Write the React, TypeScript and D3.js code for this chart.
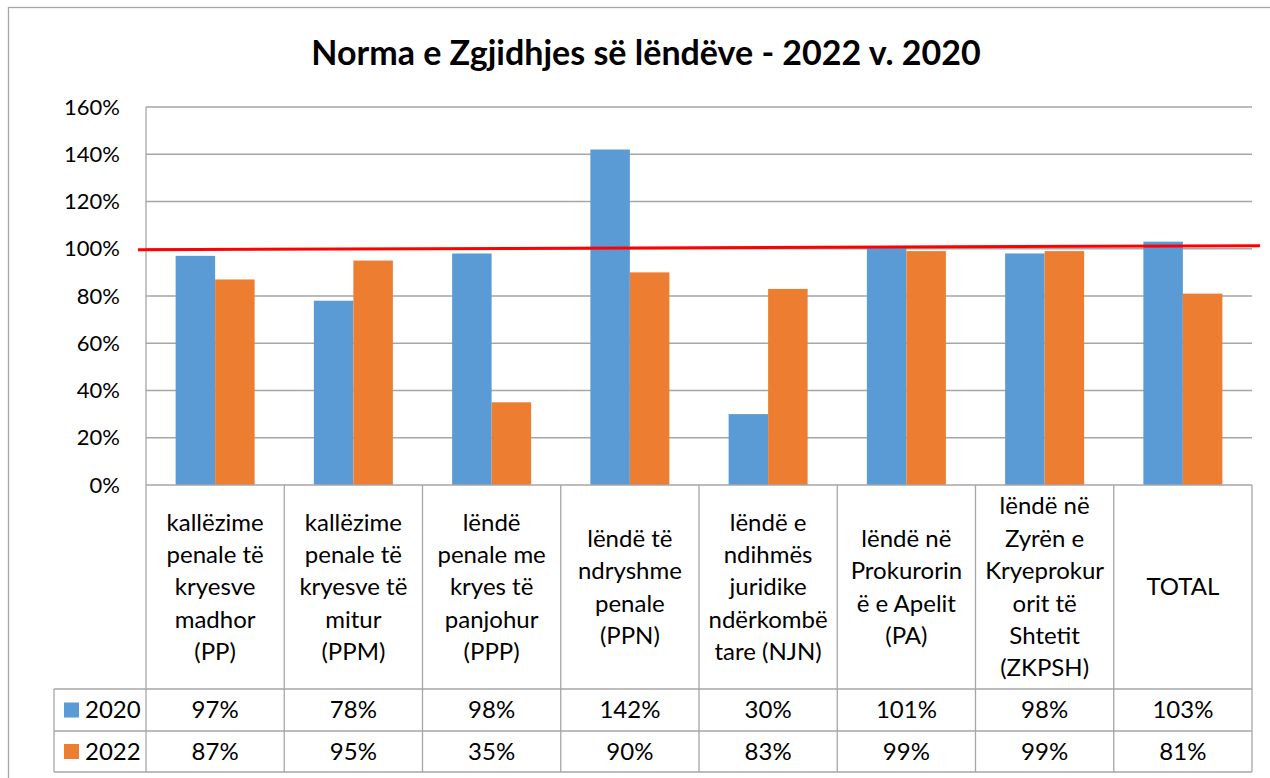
import * as d3 from "d3";
import React from "react";

const categories = [
  "kallëzime penale të kryesve madhor (PP)",
  "kallëzime penale të kryesve të mitur (PPM)",
  "lëndë penale me kryes të panjohur (PPP)",
  "lëndë të ndryshme penale (PPN)",
  "lëndë e ndihmës juridike ndërkombëtare (NJN)",
  "lëndë në Prokurorinë e Apelit (PA)",
  "lëndë në Zyrën e Kryeprokurorit të Shtetit (ZKPSH)",
  "TOTAL",
];

// category labels as they wrap in the table cells
const categoryLines = [
  ["kallëzime", "penale të", "kryesve", "madhor", "(PP)"],
  ["kallëzime", "penale të", "kryesve të", "mitur", "(PPM)"],
  ["lëndë", "penale me", "kryes të", "panjohur", "(PPP)"],
  ["lëndë të", "ndryshme", "penale", "(PPN)"],
  ["lëndë e", "ndihmës", "juridike", "ndërkombë", "tare (NJN)"],
  ["lëndë në", "Prokurorin", "ë e Apelit", "(PA)"],
  ["lëndë në", "Zyrën e", "Kryeprokur", "orit të", "Shtetit", "(ZKPSH)"],
  ["TOTAL"],
];

const seriesNames = ["2020", "2022"];
const values2020 = [0.97, 0.78, 0.98, 1.42, 0.3, 1.01, 0.98, 1.03];
const values2022 = [0.87, 0.95, 0.35, 0.9, 0.83, 0.99, 0.99, 0.81];
const yTicks = [0, 0.2, 0.4, 0.6, 0.8, 1.0, 1.2, 1.4, 1.6];
const target = 1.0;

const colors = ["#5b9bd5", "#ed7d31"];
const FONT = "Lato, 'Noto Sans', sans-serif";

export default function App() {
  const W = 1270;
  const H = 778;
  const plot = { left: 146, right: 1252, top: 107, bottom: 485 };
  const headerBottom = 689;
  const row1Bottom = 731;
  const row2Bottom = 772;
  const legendLeft = 54;

  const x = d3
    .scaleBand<string>()
    .domain(categories)
    .range([plot.left, plot.right]);
  const inner = d3
    .scaleBand<string>()
    .domain(seriesNames)
    .range([0, x.bandwidth()])
    .paddingOuter(0.75)
    .paddingInner(0);
  const y = d3.scaleLinear().domain([0, 1.6]).range([plot.bottom, plot.top]);

  const series = [values2020, values2022];
  const fmt = d3.format(".0%");
  const gridColor = "#a6a6a6";
  const lineH = 32.4;
  const headerMid = (plot.bottom + headerBottom) / 2;
  const rowBottoms = [row1Bottom, row2Bottom];
  const rowTops = [headerBottom, row1Bottom];
  const tableFont = 24;

  return (
    <svg
      width={W}
      height={H}
      style={{ position: "absolute", left: 0, top: 0, background: "#fff" }}
      fontFamily={FONT}
    >
      <rect x={0} y={0} width={W} height={H} fill="#fff" />
      {/* chart frame */}
      <rect x={8.5} y={7.5} width={W + 20} height={H + 20} fill="none" stroke={gridColor} strokeWidth={1.3} />

      <text x={646} y={65} textAnchor="middle" fontSize={34} fontWeight={700} fill="#000">
        Norma e Zgjidhjes së lëndëve - 2022 v. 2020
      </text>

      {/* gridlines + y labels */}
      {yTicks.map((t) => (
        <g key={t}>
          {t > 0 && (
            <line x1={plot.left} x2={plot.right} y1={y(t)} y2={y(t)} stroke={gridColor} strokeWidth={1.3} />
          )}
          <text x={120} y={y(t)} dy="0.35em" textAnchor="end" fontSize={22} fill="#000">
            {fmt(t)}
          </text>
        </g>
      ))}
      <line x1={plot.left} x2={plot.left} y1={plot.top} y2={plot.bottom} stroke={gridColor} strokeWidth={1.3} />

      {/* bars */}
      {categories.map((c, i) => (
        <g key={c} transform={`translate(${x(c)},0)`}>
          {seriesNames.map((s, j) => (
            <rect
              key={s}
              x={inner(s)}
              y={y(series[j][i])}
              width={inner.bandwidth()}
              height={y(0) - y(series[j][i])}
              fill={colors[j]}
            />
          ))}
        </g>
      ))}

      {/* target line */}
      <line
        x1={plot.left - 8}
        x2={1260}
        y1={y(target) + 1}
        y2={y(target) - 3}
        stroke="#ff0000"
        strokeWidth={3}
      />

      {/* data table */}
      <g stroke={gridColor} strokeWidth={1.3}>
        <line x1={plot.left} x2={plot.right} y1={plot.bottom} y2={plot.bottom} />
        <line x1={legendLeft} x2={plot.right} y1={headerBottom} y2={headerBottom} />
        <line x1={legendLeft} x2={plot.right} y1={row1Bottom} y2={row1Bottom} />
        <line x1={legendLeft} x2={plot.right} y1={row2Bottom} y2={row2Bottom} />
        <line x1={legendLeft} x2={legendLeft} y1={headerBottom} y2={row2Bottom} />
        {categories.map((c) => (
          <line key={c} x1={x(c)} x2={x(c)} y1={plot.bottom} y2={row2Bottom} />
        ))}
        <line x1={plot.right} x2={plot.right} y1={plot.bottom} y2={row2Bottom} />
      </g>

      {categories.map((c, i) => {
        const lines = categoryLines[i];
        const cx = (x(c) ?? 0) + x.bandwidth() / 2;
        const y0 = headerMid - ((lines.length - 1) * lineH) / 2;
        return (
          <text key={c} textAnchor="middle" fontSize={tableFont} fill="#000">
            {lines.map((l, k) => (
              <tspan key={k} x={cx} y={y0 + k * lineH} dy="0.35em">
                {l}
              </tspan>
            ))}
          </text>
        );
      })}

      {seriesNames.map((s, j) => {
        const cy = (rowTops[j] + rowBottoms[j]) / 2;
        return (
          <g key={s}>
            <rect x={64} y={cy - 7.5} width={15} height={15} fill={colors[j]} />
            <text x={85} y={cy} dy="0.35em" fontSize={tableFont} fill="#000">
              {s}
            </text>
            {categories.map((c, i) => (
              <text
                key={c}
                x={(x(c) ?? 0) + x.bandwidth() / 2}
                y={cy}
                dy="0.35em"
                textAnchor="middle"
                fontSize={tableFont}
                fill="#000"
              >
                {fmt(series[j][i])}
              </text>
            ))}
          </g>
        );
      })}
    </svg>
  );
}
